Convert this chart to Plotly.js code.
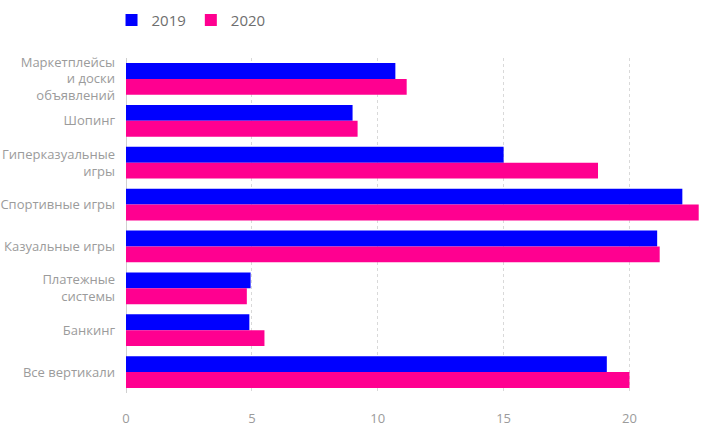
<!DOCTYPE html>
<html><head><meta charset="utf-8">
<script src="https://cdn.plot.ly/plotly-3.0.1.min.js"></script>
<style>body{margin:0;padding:0;background:#fff}#chart{width:715px;height:442px}</style>
</head><body><div id="chart"></div>
<script>
const categories = ["Маркетплейсы<br>и доски<br>объявлений", "Шопинг", "Гиперказуальные<br>игры", "Спортивные игры", "Казуальные игры", "Платежные<br>системы", "Банкинг", "Все вертикали"];
const values2019 = [10.7, 9.0, 15.0, 22.1, 21.1, 4.95, 4.9, 19.1];
const values2020 = [11.15, 9.2, 18.75, 22.75, 21.2, 4.8, 5.5, 20.0];
const xTicks = [0, 5, 10, 15, 20];

const fontFamily = "'Open Sans', sans-serif";
const textColor = "#9b9b9b";

const data = [
  {type: "bar", orientation: "h", name: "2019", y: categories, x: values2019, marker: {color: "#0000ff"}, hoverinfo: "x"},
  {type: "bar", orientation: "h", name: "2020", y: categories, x: values2020, marker: {color: "#ff0090"}, hoverinfo: "x"}
];

const layout = {
  width: 715, height: 442,
  margin: {l: 126, r: 10, t: 58, b: 49, autoexpand: false},
  paper_bgcolor: "#fff", plot_bgcolor: "#fff",
  barmode: "group", bargap: 0.24, bargroupgap: 0,
  font: {family: fontFamily, color: textColor, size: 13},
  showlegend: true,
  legend: {orientation: "h", x: -0.025, xanchor: "left", y: 1.113, yanchor: "middle", font: {size: 15, color: "#6e6e6e"}, traceorder: "normal"},
  xaxis: {
    range: [0, 23], tickvals: xTicks, ticktext: xTicks.map(String),
    showgrid: true, gridcolor: "#d9d9d9", griddash: "dot", gridwidth: 1,
    zeroline: true, zerolinecolor: "#d0d0d0", zerolinewidth: 1,
    showline: false, ticks: "", ticklabelstandoff: 16, automargin: false,
    tickfont: {size: 13, color: textColor}, fixedrange: true
  },
  yaxis: {
    type: "category", autorange: "reversed", automargin: false,
    showgrid: false, zeroline: false, showline: false, ticks: "",
    ticklabelstandoff: 10,
    tickfont: {size: 13, color: textColor}, fixedrange: true
  }
};

Plotly.newPlot("chart", data, layout, {displayModeBar: false, staticPlot: true});
</script></body></html>
